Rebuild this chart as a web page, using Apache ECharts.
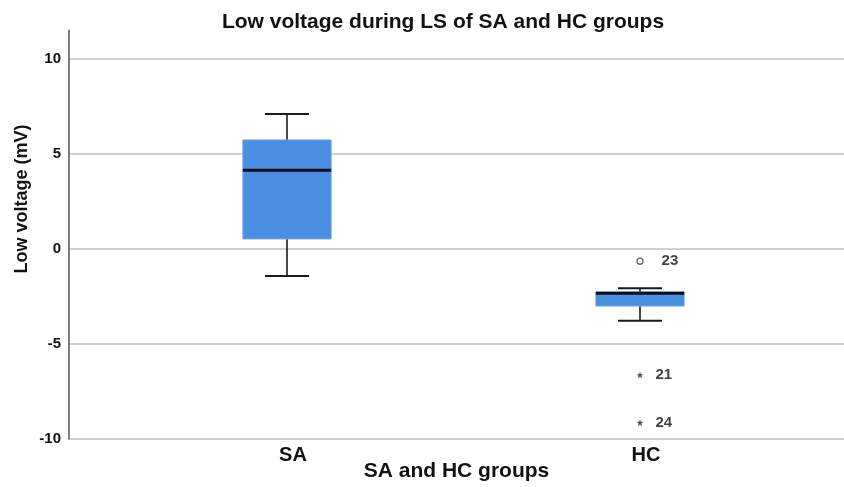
<!DOCTYPE html>
<html>
<head>
<meta charset="utf-8">
<title>Low voltage during LS of SA and HC groups</title>
<script src="https://cdn.jsdelivr.net/npm/echarts@6/dist/echarts.min.js"></script>
<style>
  html, body { margin: 0; padding: 0; background: #ffffff; }
  #chart { width: 844px; height: 487px; }
</style>
</head>
<body>
<div id="chart"></div>
<script>
// Groups and five-number summaries (mV)
const categories = ['SA', 'HC'];
const whiskerLow = [-1.42, -3.77];
const quartile1 = [0.53, -3.0];
const medians = [4.15, -2.33];
const quartile3 = [5.74, -2.26];
const whiskerHigh = [7.1, -2.07];

// Individual cases outside the whiskers
const outlierIds = ['23', '21', '24'];
const outlierGroups = ['HC', 'HC', 'HC'];
const outlierValues = [-0.64, -6.63, -9.14];
const outlierKinds = ['mild', 'extreme', 'extreme'];

// Value axis
const yMin = -10;
const yMax = 11.5;
const yStep = 5;

const FONT = '"Liberation Sans", Arial, Helvetica, sans-serif';

const boxData = categories.map((c, i) => [i, whiskerLow[i], quartile1[i], medians[i], quartile3[i], whiskerHigh[i]]);

const starPath = 'path://M50,0 L61,35 L98,35 L68,57 L79,91 L50,70 L21,91 L32,57 L2,35 L39,35 Z';

const mildPoints = [];
const extremePoints = [];
outlierValues.forEach((v, i) => {
  const item = { value: [outlierGroups[i], v], name: outlierIds[i] };
  (outlierKinds[i] === 'mild' ? mildPoints : extremePoints).push(item);
});

function renderBox(params, api) {
  const idx = api.value(0);
  const lo = api.coord([idx, api.value(1)]);
  const q1 = api.coord([idx, api.value(2)]);
  const md = api.coord([idx, api.value(3)]);
  const q3 = api.coord([idx, api.value(4)]);
  const hi = api.coord([idx, api.value(5)]);
  const band = api.size([1, 0])[0];
  const bw = band * 0.25;
  const cw = bw * 0.5;
  const cx = md[0];
  const stroke = { stroke: '#1a1a1a', lineWidth: 1.6 };
  return {
    type: 'group',
    children: [
      { type: 'line', shape: { x1: cx, y1: q3[1], x2: cx, y2: hi[1] }, style: stroke },
      { type: 'line', shape: { x1: cx, y1: q1[1], x2: cx, y2: lo[1] }, style: stroke },
      { type: 'line', shape: { x1: cx - cw / 2, y1: hi[1], x2: cx + cw / 2, y2: hi[1] }, style: { stroke: '#1a1a1a', lineWidth: 2 } },
      { type: 'line', shape: { x1: cx - cw / 2, y1: lo[1], x2: cx + cw / 2, y2: lo[1] }, style: { stroke: '#1a1a1a', lineWidth: 2 } },
      { type: 'rect', shape: { x: cx - bw / 2, y: q3[1], width: bw, height: q1[1] - q3[1] }, style: { fill: '#4a8fe2', stroke: '#6aa3e8', lineWidth: 1 } },
      { type: 'line', shape: { x1: cx - bw / 2, y1: md[1], x2: cx + bw / 2, y2: md[1] }, style: { stroke: '#0d0d1a', lineWidth: 3 } }
    ]
  };
}

const chart = echarts.init(document.getElementById('chart'), null, { renderer: 'canvas' });

chart.setOption({
  animation: false,
  backgroundColor: '#ffffff',
  title: {
    text: 'Low voltage during LS of SA and HC groups',
    left: 443,
    textAlign: 'center',
    top: 12,
    padding: 0,
    textStyle: { fontFamily: FONT, fontWeight: 'bold', fontSize: 21, color: '#111' }
  },
  graphic: [{
    type: 'text',
    x: 22,
    y: 199,
    rotation: Math.PI / 2,
    style: {
      text: 'Low voltage (mV)',
      font: 'bold 18px ' + FONT,
      fill: '#111',
      align: 'center',
      verticalAlign: 'middle'
    }
  }],
  grid: [
    { left: 69, right: 0, top: 30.5, bottom: 48 },
    { left: 110.5, right: 27.5, top: 30.5, bottom: 48 }
  ],
  xAxis: [
    {
      gridIndex: 0,
      type: 'value',
      min: 0,
      max: 1,
      axisLine: { show: false },
      axisTick: { show: false },
      axisLabel: { show: false },
      splitLine: { show: false },
      name: 'SA and HC groups',
      nameLocation: 'middle',
      nameGap: 22,
      nameTextStyle: { fontFamily: FONT, fontWeight: 'bold', fontSize: 21, color: '#111' }
    },
    {
      gridIndex: 1,
      type: 'category',
      data: categories,
      axisLine: { show: false },
      axisTick: { show: false },
      splitLine: { show: false },
      axisLabel: {
        margin: 6,
        padding: [0, 0, 0, 12],
        fontFamily: FONT,
        fontWeight: 'bold',
        fontSize: 20,
        color: '#111'
      }
    }
  ],
  yAxis: [
    {
      gridIndex: 0,
      type: 'value',
      min: yMin,
      max: yMax,
      interval: yStep,
      axisLine: { show: true, lineStyle: { color: '#555', width: 1.5 } },
      axisTick: { show: false },
      axisLabel: {
        showMaxLabel: false,
        margin: 8,
        fontFamily: FONT,
        fontWeight: 'bold',
        fontSize: 15,
        color: '#111'
      },
      splitLine: { show: true, showMaxLine: false, lineStyle: { color: '#c0c0c0', width: 1.6 } }
    },
    {
      gridIndex: 1,
      type: 'value',
      min: yMin,
      max: yMax,
      interval: yStep,
      show: false
    }
  ],
  series: [
    {
      type: 'custom',
      xAxisIndex: 1,
      yAxisIndex: 1,
      renderItem: renderBox,
      encode: { x: 0, y: [1, 2, 3, 4, 5] },
      data: boxData,
      z: 3
    },
    {
      type: 'scatter',
      xAxisIndex: 1,
      yAxisIndex: 1,
      symbol: 'circle',
      symbolSize: 6,
      itemStyle: { color: '#ffffff', borderColor: '#333', borderWidth: 1.2 },
      label: {
        show: true,
        position: 'right',
        distance: 18,
        formatter: p => p.name,
        fontFamily: FONT,
        fontWeight: 'bold',
        fontSize: 15,
        color: '#111'
      },
      data: mildPoints,
      z: 4
    },
    {
      type: 'scatter',
      xAxisIndex: 1,
      yAxisIndex: 1,
      symbol: starPath,
      symbolSize: 7,
      itemStyle: { color: '#222' },
      label: {
        show: true,
        position: 'right',
        distance: 12,
        formatter: p => p.name,
        fontFamily: FONT,
        fontWeight: 'bold',
        fontSize: 15,
        color: '#111'
      },
      data: extremePoints,
      z: 4
    }
  ]
});
</script>
</body>
</html>
